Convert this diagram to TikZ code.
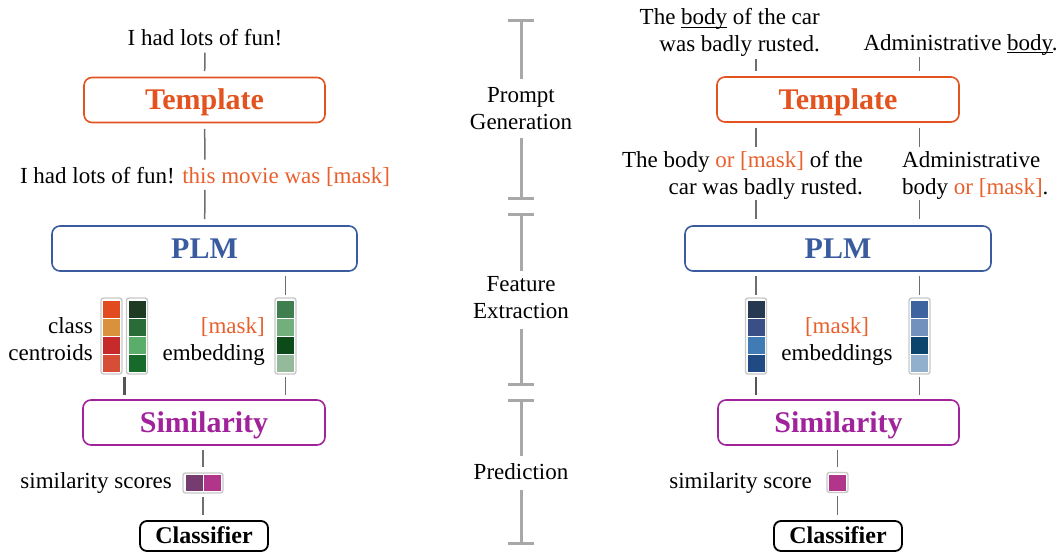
\documentclass[tikz,border=0pt]{standalone}
\usepackage{fontspec}
\setmainfont{Liberation Serif}
\usetikzlibrary{calc}
\definecolor{tplorange}{HTML}{E2531F}
\definecolor{maskorange}{HTML}{E8602C}
\definecolor{plmblue}{HTML}{3A5C9E}
\definecolor{simpurple}{HTML}{A0239B}
\definecolor{connGray}{HTML}{6E6E6E}
\definecolor{connDark}{HTML}{555555}
\definecolor{tlGray}{HTML}{A8A8A8}
\definecolor{frameGray}{HTML}{C8C8C8}
\definecolor{ca1}{HTML}{E24B1F}\definecolor{ca2}{HTML}{D9913B}\definecolor{ca3}{HTML}{C72A2B}\definecolor{ca4}{HTML}{D74E36}
\definecolor{cb1}{HTML}{1F3A23}\definecolor{cb2}{HTML}{2A6C37}\definecolor{cb3}{HTML}{5AAE69}\definecolor{cb4}{HTML}{176B2A}
\definecolor{ce1}{HTML}{3F7F4F}\definecolor{ce2}{HTML}{73AE7D}\definecolor{ce3}{HTML}{0D4A19}\definecolor{ce4}{HTML}{95BA9B}
\definecolor{cr1}{HTML}{253A51}\definecolor{cr2}{HTML}{3A4F86}\definecolor{cr3}{HTML}{407BB5}\definecolor{cr4}{HTML}{1F4A84}
\definecolor{cs1}{HTML}{3E64A0}\definecolor{cs2}{HTML}{7391BD}\definecolor{cs3}{HTML}{0B456E}\definecolor{cs4}{HTML}{90B0CE}
\definecolor{sc1}{HTML}{773C6F}\definecolor{sc2}{HTML}{B1358A}
\newcommand{\ulbody}[1]{\setbox0\hbox{#1}\rlap{\rule[-3.2pt]{\wd0}{0.9pt}}#1}
\newcommand{\vecfour}[6]{%
  \node[vecbox, minimum width=21pt, minimum height=76pt] (#1) at #2 {};
  \fill[#3] ([shift={(-8.5,-35.5)}]#1.center) rectangle ++(17,17);
  \fill[#4] ([shift={(-8.5,-17.5)}]#1.center) rectangle ++(17,17);
  \fill[#5] ([shift={(-8.5,0.5)}]#1.center) rectangle ++(17,17);
  \fill[#6] ([shift={(-8.5,18.5)}]#1.center) rectangle ++(17,17);
}
\tikzset{
  txt/.style={inner sep=0pt, font=\fontsize{23}{27}\selectfont},
  titlebox/.style={draw=#1, text=#1, line width=1.6pt, rounded corners=8pt,
    minimum height=45pt, inner sep=0pt, font=\fontsize{30}{36}\selectfont\bfseries,
    text height=19.8pt, text depth=0.6pt},
  clsbox/.style={draw=black, line width=1.8pt, rounded corners=7pt, minimum width=128pt,
    minimum height=30pt, inner sep=0pt, font=\fontsize{24}{28}\selectfont\bfseries,
    text height=15.8pt, text depth=0.5pt},
  vecbox/.style={draw=frameGray, fill=white, line width=1.4pt, rounded corners=2.5pt, inner sep=0pt},
  conn/.style={draw=connGray, line width=1.5pt, shorten <=4pt, shorten >=4pt},
  connthick/.style={conn, draw=connDark, line width=2.8pt},
  tl/.style={draw=tlGray, line width=3pt},
}
\begin{document}
\begin{tikzpicture}[x=1pt, y=-1pt]
\useasboundingbox (0,0) rectangle (1062,552);

% ---------- left column ----------
\node[txt, anchor=base] (inL) at (205,45) {I had lots of fun!};
\node[titlebox=tplorange, minimum width=241pt] (tmplL) at (204.5,100) {Template};
\node[txt, anchor=base] (promptL) at (205,183) {I had lots of fun! \textcolor{maskorange}{this movie was [mask]}};
\node[titlebox=plmblue, minimum width=305pt] (plmL) at (204.5,248.5) {PLM};
\vecfour{v1}{(111.5,336)}{ca1}{ca2}{ca3}{ca4}
\vecfour{v2}{(137,336)}{cb1}{cb2}{cb3}{cb4}
\vecfour{emb}{(285.5,336)}{ce1}{ce2}{ce3}{ce4}
\node[txt, align=right, anchor=north east] (ccL) at (93,317.3) {class\\centroids};
\node[txt, align=right, anchor=north east] (embL) at (265,317.4) {\textcolor{maskorange}{[mask]}\\embedding};
\node[titlebox=simpurple, minimum width=242pt] (simL) at (204,422.5) {Similarity};
\node[vecbox, minimum width=40pt, minimum height=20pt] (scL) at (203,483) {};
\fill[sc1] ([shift={(-17.5,-8)}]scL.center) rectangle ++(17,16);
\fill[sc2] ([shift={(0.5,-8)}]scL.center) rectangle ++(17,16);
\node[txt, anchor=base east] (sslL) at (172,488) {similarity scores};
\node[clsbox] (clsL) at (204,536) {Classifier};
\coordinate (cc) at ($(v1.south)!0.5!(v2.south)$);

\draw[conn, shorten <=7pt, shorten >=5.5pt] (inL) -- (tmplL);
\draw[conn, shorten <=5.5pt, shorten >=7pt] (tmplL) -- (promptL);
\draw[conn, shorten <=3.5pt, shorten >=6pt] (promptL) -- (plmL);
\draw[conn, shorten >=2pt] (emb |- plmL.south) -- (emb);
\draw[connthick, shorten <=2pt] (cc) -- (cc |- simL.north);
\draw[conn, shorten <=2pt] (emb) -- (emb |- simL.north);
\draw[conn, shorten >=5pt] (simL.south -| scL) -- (scL);
\draw[conn, shorten <=3pt, shorten >=5pt] (scL) -- (clsL.north -| scL);

% ---------- middle timeline ----------
\coordinate (t1a) at (521,20);  \coordinate (t1b) at (521,198);
\coordinate (t2a) at (521,214); \coordinate (t2b) at (521,384);
\coordinate (t3a) at (521,400); \coordinate (t3b) at (521,543);
\node[txt, align=center] (ph1) at (521,108.5) {Prompt\\Generation};
\node[txt, align=center] (ph2) at (521,298) {Feature\\Extraction};
\node[txt, align=center] (ph3) at (521,472) {Prediction};
\foreach \t in {t1a,t1b,t2a,t2b,t3a,t3b}{
  \draw[tl] ([xshift=-13pt]\t) -- ([xshift=13pt]\t);
}
\draw[tl, shorten >=8pt] (t1a) -- (ph1);
\draw[tl, shorten <=8pt] (ph1) -- (t1b);
\draw[tl, shorten >=6pt] (t2a) -- (ph2);
\draw[tl, shorten <=10pt] (ph2) -- (t2b);
\draw[tl, shorten >=8pt] (t3a) -- (ph3);
\draw[tl, shorten <=10pt] (ph3) -- (t3b);

% ---------- right column ----------
\node[txt, align=right, anchor=north east] (inR1) at (820,8.3) {The \ulbody{body} of the car\\was badly rusted.};
\node[txt, anchor=base] (inR2) at (960.5,50) {Administrative \ulbody{body}.};
\node[titlebox=tplorange, minimum width=242pt] (tmplR) at (838,99.5) {Template};
\node[txt, align=right, anchor=north east] (prR1) at (863,151.3) {The body \textcolor{maskorange}{or [mask]} of the\\car was badly rusted.};
\node[txt, align=left, anchor=north west] (prR2) at (902,151.3) {Administrative\\body \textcolor{maskorange}{or [mask]}.};
\node[titlebox=plmblue, minimum width=306pt] (plmR) at (838,248.5) {PLM};
\vecfour{r1}{(756,336)}{cr1}{cr2}{cr3}{cr4}
\vecfour{r2}{(919.5,336)}{cs1}{cs2}{cs3}{cs4}
\node[txt, align=center, anchor=north] (embR) at (837,317.4) {\textcolor{maskorange}{[mask]}\\embeddings};
\node[titlebox=simpurple, minimum width=241pt] (simR) at (838.5,422.5) {Similarity};
\node[vecbox, minimum width=21pt, minimum height=20pt] (scR) at (837.5,482.5) {};
\fill[sc2] ([shift={(-8.5,-8)}]scR.center) rectangle ++(17,16);
\node[txt, anchor=base east] (sslR) at (812,488) {similarity score};
\node[clsbox] (clsR) at (838,536) {Classifier};

\draw[conn, shorten <=2pt, shorten >=5pt] (inR1.south -| r1) -- (tmplR.north -| r1);
\draw[conn, shorten <=2pt, shorten >=5pt] (inR2.south -| r2) -- (tmplR.north -| r2);
\draw[conn, shorten <=5.5pt, shorten >=4pt] (tmplR.south -| r1) -- (prR1.north -| r1);
\draw[conn, shorten <=5.5pt, shorten >=4pt] (tmplR.south -| r2) -- (prR2.north -| r2);
\draw[conn, shorten <=0pt, shorten >=6pt] (prR1.south -| r1) -- (plmR.north -| r1);
\draw[conn, shorten <=0pt, shorten >=6pt] (prR2.south -| r2) -- (plmR.north -| r2);
\draw[conn, shorten >=2pt] (plmR.south -| r1) -- (r1);
\draw[conn, shorten >=2pt] (plmR.south -| r2) -- (r2);
\draw[connthick, shorten <=2pt] (r1) -- (simR.north -| r1);
\draw[conn, shorten <=2pt] (r2) -- (simR.north -| r2);
\draw[conn, shorten >=5pt] (simR.south -| scR) -- (scR);
\draw[conn, shorten <=3pt, shorten >=5pt] (scR) -- (clsR.north -| scR);
\end{tikzpicture}
\end{document}
